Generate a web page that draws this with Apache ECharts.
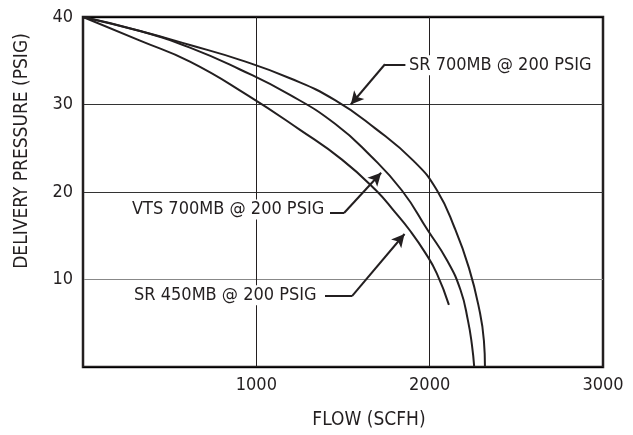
<!DOCTYPE html>
<html>
<head>
<meta charset="utf-8">
<script src="https://cdn.jsdelivr.net/npm/echarts@6/dist/echarts.min.js"></script>
<style>
  html, body { margin: 0; padding: 0; background: #fff; }
  #chart { width: 633px; height: 435px; }
</style>
</head>
<body>
<div id="chart"></div>
<script>
// ---- data ----
const xTickValues = [0, 1000, 2000, 3000];
const yTickValues = [0, 10, 20, 30, 40];

const sr700Flow = [0, 329, 617, 906, 1194, 1454, 1684, 1910, 2042, 2146, 2227, 2285, 2313, 2319];
const sr700Pres = [40, 38.4, 36.8, 35.1, 33.0, 30.5, 27.3, 23.5, 20.2, 15.8, 11.3, 6.7, 3.0, 0];

const vts700Flow = [0, 329, 617, 906, 1194, 1454, 1656, 1839, 1990, 2100, 2178, 2221, 2244, 2257];
const vts700Pres = [40, 38.4, 36.5, 34.0, 31.1, 27.8, 24.2, 20.2, 15.6, 12.2, 8.8, 5.3, 2.5, 0];

const sr450Flow = [0, 329, 617, 946, 1252, 1494, 1690, 1800, 1886, 1973, 2041, 2111];
const sr450Pres = [40, 37.3, 34.9, 31.1, 27.1, 23.7, 20.2, 17.7, 15.6, 13.1, 10.7, 7.1];

const seriesNames = ['SR 700MB @ 200 PSIG', 'VTS 700MB @ 200 PSIG', 'SR 450MB @ 200 PSIG'];
const labelFlow = [1869, 271, 283];
const labelPres = [34.5, 18.0, 8.2];
const leaderStartFlow = [1860, 1425, 1396];
const leaderStartPres = [34.6, 17.6, 8.1];
const leaderElbowFlow = [1742, 1506, 1552];
const leaderTipFlow = [1545, 1720, 1855];
const leaderTipPres = [30.0, 22.2, 15.2];

// ---- build ----
const INK = '#231f20';
const FONT = "'Liberation Sans Narrow', 'DejaVu Sans Condensed', sans-serif";
const pairs = (xs, ys) => xs.map((x, i) => [x, ys[i]]);
const curves = [pairs(sr700Flow, sr700Pres), pairs(vts700Flow, vts700Pres), pairs(sr450Flow, sr450Pres)];

const series = curves.map((data, i) => ({
  type: 'line',
  name: seriesNames[i],
  data: data,
  smooth: 0.5,
  showSymbol: false,
  symbol: 'none',
  lineStyle: { color: INK, width: 2 },
  z: 3,
  silent: true,
  markLine: {
    silent: true,
    animation: false,
    label: { show: false },
    emphasis: { disabled: true },
    lineStyle: { color: INK, width: 2, type: 'solid' },
    data: [
      [
        { coord: [leaderStartFlow[i], leaderStartPres[i]], symbol: 'none' },
        { coord: [leaderElbowFlow[i], leaderStartPres[i]], symbol: 'none' }
      ],
      [
        { coord: [leaderElbowFlow[i], leaderStartPres[i]], symbol: 'none' },
        { coord: [leaderTipFlow[i], leaderTipPres[i]], symbol: 'arrow', symbolSize: [10, 13] }
      ]
    ]
  },
  markPoint: {
    silent: true,
    animation: false,
    symbol: 'circle',
    symbolSize: 0,
    data: [{
      coord: [labelFlow[i], labelPres[i]],
      label: {
        show: true,
        position: 'right',
        distance: 0,
        formatter: seriesNames[i],
        color: INK,
        fontFamily: FONT,
        fontSize: 18,
        backgroundColor: '#fff',
        padding: [1, 2]
      }
    }]
  }
}));

const chart = echarts.init(document.getElementById('chart'), null, { renderer: 'canvas' });
chart.setOption({
  animation: false,
  backgroundColor: '#fff',
  grid: { left: 83, top: 17, width: 520, height: 350, show: true, borderColor: INK, borderWidth: 2.5, backgroundColor: 'transparent' },
  xAxis: {
    type: 'value',
    min: xTickValues[0],
    max: xTickValues[xTickValues.length - 1],
    interval: 1000,
    name: 'FLOW (SCFH)',
    nameLocation: 'middle',
    nameGap: 44,
    nameTextStyle: { color: INK, fontFamily: FONT, fontSize: 19, padding: [0, 0, 0, 52] },
    axisLine: { show: false },
    axisTick: { show: false },
    axisLabel: {
      color: INK, fontFamily: FONT, fontSize: 18, margin: 9,
      formatter: v => (v === 0 ? '' : String(v))
    },
    splitLine: { show: true, lineStyle: { color: INK, width: 1 } }
  },
  yAxis: {
    type: 'value',
    min: yTickValues[0],
    max: yTickValues[yTickValues.length - 1],
    interval: 10,
    name: 'DELIVERY PRESSURE (PSIG)',
    nameLocation: 'middle',
    nameGap: 51,
    nameTextStyle: { color: INK, fontFamily: FONT, fontSize: 19, padding: [0, 0, 0, 82] },
    axisLine: { show: false },
    axisTick: { show: false },
    axisLabel: {
      color: INK, fontFamily: FONT, fontSize: 18, margin: 10,
      formatter: v => (v === 0 ? '' : String(v))
    },
    splitLine: { show: true, lineStyle: { color: ['#000', '#888', '#333', '#333', '#000'], width: 1 } }
  },
  series: series
});
</script>
</body>
</html>
